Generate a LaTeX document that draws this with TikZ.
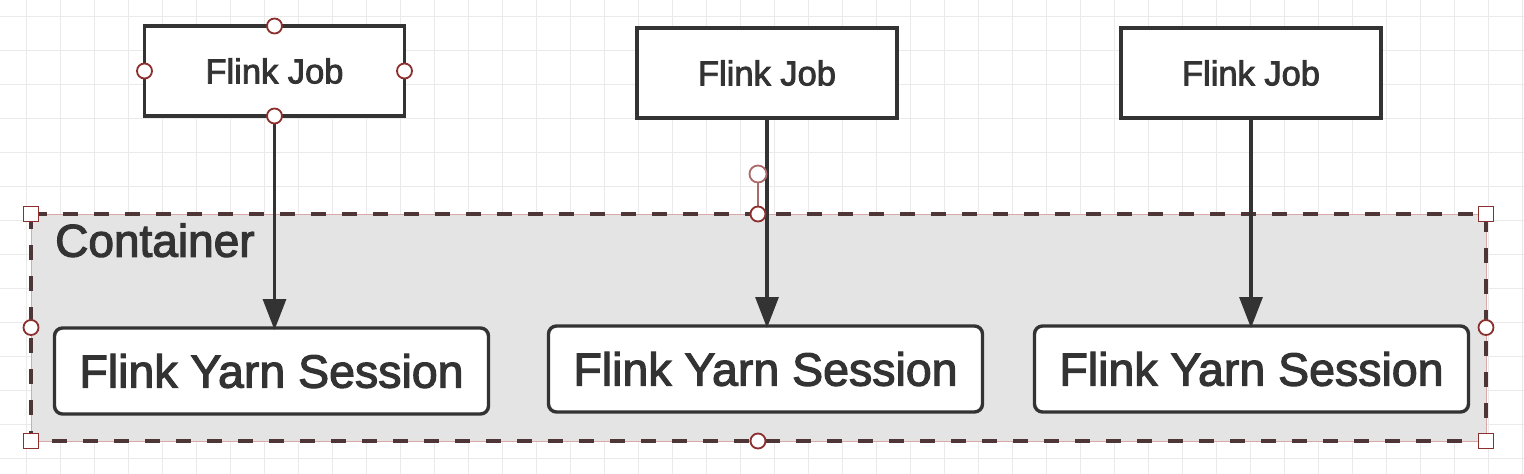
\documentclass[tikz,border=0pt]{standalone}
\usepackage{fontspec}
\setmainfont[FakeBold=2.5]{Liberation Sans}
\usetikzlibrary{arrows.meta}
\definecolor{ink}{HTML}{333333}
\definecolor{handle}{HTML}{8B2F2F}
\definecolor{rothandle}{HTML}{A86A6A}
\definecolor{gridc}{HTML}{EAEAEA}
\definecolor{contfill}{HTML}{E4E4E4}
\definecolor{contline}{HTML}{4F3636}
\definecolor{selpink}{HTML}{D9A8A8}
\begin{document}
\begin{tikzpicture}[x=1pt,y=-1pt,
  job/.style={draw=ink, line width=3.4pt, fill=white, minimum width=260pt, minimum height=90pt, inner sep=0pt, outer sep=0pt, font=\fontsize{34.5}{38}\selectfont, text=ink},
  yarn/.style={draw=ink, line width=3.4pt, fill=white, rounded corners=8pt, minimum width=434pt, minimum height=86pt, inner sep=0pt, outer sep=0pt, font=\fontsize{46.5}{50}\selectfont, text=ink},
  conn/.style={draw=ink, line width=3.2pt, -{Triangle[length=31pt,width=23pt]}},
  hcirc/.style={circle, draw=handle, line width=1.8pt, fill=white, minimum size=15pt, inner sep=0pt},
  hsq/.style={rectangle, draw=handle, line width=1.8pt, fill=white, minimum size=15pt, inner sep=0pt},
  contbox/.style={fill=contfill, minimum width=1455pt, minimum height=227pt, inner sep=0pt, outer sep=0pt},
  contlabel/.style={anchor=base west, inner sep=0pt, font=\fontsize{46}{48}\selectfont, text=ink}
]
\useasboundingbox (0,0) rectangle (1524,474);
\fill[white] (0,0) rectangle (1524,474);
% grid
\foreach \i in {0,...,44} \draw[gridc, line width=1.4pt] ({26.7+34*\i},0) -- ({26.7+34*\i},474);
\foreach \j in {0,...,13} \draw[gridc, line width=1.4pt] (0,{16.5+34*\j}) -- (1524,{16.5+34*\j});
% container
\node[contbox] (cont) at (758.5,327.5) {};
\draw[selpink, line width=1pt] (cont.north west) rectangle (cont.south east);
\draw[contline, line width=3.4pt, dash pattern=on 15pt off 16pt] (cont.north west) rectangle (cont.south east);
\node[contlabel] (clabel) at (55,256.7) {Container};
% jobs
\node[job] (j1) at (274.5,71) {Flink Job};
\node[job] (j2) at (767,73) {Flink Job};
\node[job] (j3) at (1251,73) {Flink Job};
% yarn sessions
\node[yarn] (y1) at (271.5,371) {Flink Yarn Session};
\node[yarn] (y2) at (765.5,369) {Flink Yarn Session};
\node[yarn] (y3) at (1251.5,369) {Flink Yarn Session};
% connectors
\draw[conn] (j1.south) -- ([yshift=-2pt]j1.south |- y1.north);
\draw[conn] (j2.south) -- ([yshift=-2pt]j2.south |- y2.north);
\draw[conn] (j3.south) -- ([yshift=-2pt]j3.south |- y3.north);
% selection handles on job 1
\node[hcirc] (h1n) at (j1.north) {};
\node[hcirc] (h1s) at (j1.south) {};
\node[hcirc] (h1w) at (j1.west) {};
\node[hcirc] (h1e) at (j1.east) {};
% selection handles on container
\coordinate (cn) at (758,214);
\coordinate (rot) at (758,174);
\draw[rothandle, line width=1.8pt] (rot) -- (cn);
\node[circle, draw=rothandle, line width=1.8pt, fill=white, minimum size=17pt, inner sep=0pt] (hrot) at (rot) {};
\node[hcirc] (hcn) at (cn) {};
\node[hcirc] (hcs) at (758,441) {};
\node[hcirc] (hcw) at (cont.west) {};
\node[hcirc] (hce) at (cont.east) {};
\node[hsq] (hnw) at (cont.north west) {};
\node[hsq] (hne) at (cont.north east) {};
\node[hsq] (hsw) at (cont.south west) {};
\node[hsq] (hse) at (cont.south east) {};
\end{tikzpicture}
\end{document}
